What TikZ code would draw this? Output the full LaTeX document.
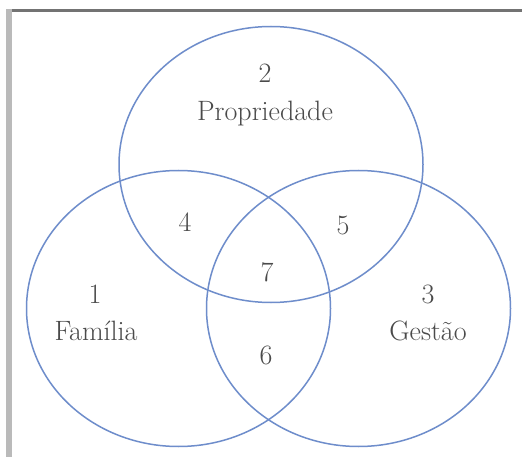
\documentclass[tikz,border=0pt]{standalone}
\begin{document}
\begin{tikzpicture}[x=1pt,y=-1pt,
  set/.style={draw=vblue,line width=1.5pt},
  lbl/.style={text=tgray,font=\fontsize{28}{32}\selectfont,inner sep=0pt,anchor=base}]
\definecolor{vblue}{HTML}{6E8DCB}
\definecolor{tgray}{HTML}{4A4A4A}
\useasboundingbox (0,0) rectangle (522,457);
\fill[white] (0,0) rectangle (522,457);
\fill[black!55] (9,9) rectangle (522,12);
\fill[black!27] (6,9) rectangle (12,457);
\coordinate (cP) at (271,164.5);
\coordinate (cF) at (178.5,308.5);
\coordinate (cG) at (358.5,308.5);
\draw[set] (cP) ellipse [x radius=152, y radius=138];
\draw[set] (cF) ellipse [x radius=152, y radius=138];
\draw[set] (cG) ellipse [x radius=152, y radius=138];
\node[lbl] (n2) at (265,83) {2};
\node[lbl] (tP) at (265,121) {Propriedade};
\node[lbl] (n4) at (185,232) {4};
\node[lbl] (n5) at (343,234) {5};
\node[lbl] (n7) at (267,281) {7};
\node[lbl] (n1) at (95,303) {1};
\node[lbl] (tF) at (96,340) {Família};
\node[lbl] (n3) at (428,303) {3};
\node[lbl] (tG) at (428,340) {Gestão};
\node[lbl] (n6) at (266,364) {6};
\end{tikzpicture}
\end{document}
